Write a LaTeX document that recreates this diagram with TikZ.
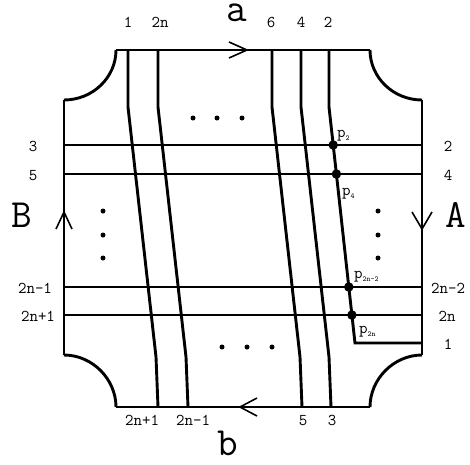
\documentclass[tikz,border=0pt]{standalone}
\usepackage{fontspec}
\begin{document}
\begin{tikzpicture}[x=1pt,y=-1pt,
  strand/.style={line width=2.9pt},
  edge/.style={line width=1.6pt},
  corner/.style={line width=2.9pt},
  chev/.style={line width=1.6pt},
  lab/.style={font=\ttfamily\fontsize{16.5}{16.5}\selectfont, anchor=base, inner sep=0pt},
  plab/.style={font=\ttfamily\fontsize{16.5}{16.5}\selectfont, anchor=base west, inner sep=0pt},
  big/.style={font=\ttfamily\fontsize{40}{40}\selectfont, anchor=base, inner sep=0pt},
  xdot/.style={circle, fill, inner sep=0pt, minimum size=9.5pt},
  sdot/.style={circle, fill, inner sep=0pt, minimum size=5pt}]
\useasboundingbox (0,0) rectangle (470,464);
\newcommand{\sbs}[1]{\raisebox{-3pt}{\ttfamily\fontsize{7.5}{7.5}\selectfont #1}}
% frame
\coordinate (TL1) at (116,50);  \coordinate (TR1) at (370,50);
\coordinate (TL2) at (64,100);  \coordinate (TR2) at (422,100);
\coordinate (BL1) at (64,355);  \coordinate (BR1) at (422,355);
\coordinate (BL2) at (116,407); \coordinate (BR2) at (370,407);
\draw[edge] (TL1) -- (TR1);
\draw[edge] (TR2) -- (BR1);
\draw[edge] (BR2) -- (BL2);
\draw[edge] (BL1) -- (TL2);
\draw[corner] (TL1) .. controls (116,77.6) and (92.6,100) .. (TL2);
\draw[corner] (TR1) .. controls (370,77.6) and (393.4,100) .. (TR2);
\draw[corner] (BL1) .. controls (92.6,355) and (116,379.4) .. (BL2);
\draw[corner] (BR1) .. controls (393.4,355) and (370,379.4) .. (BR2);
% edge arrows
\coordinate (atip) at (247,50);
\coordinate (btip) at (240,407);
\coordinate (Btip) at (64,212);
\coordinate (Atip) at (422,229);
\draw[chev] (atip) ++(-18,-8) -- (atip) -- ++(-18,8);
\draw[chev] (btip) ++(17,-9) -- (btip) -- ++(17,9);
\draw[chev] (Btip) ++(-8,17) -- (Btip) -- ++(8,17);
\draw[chev] (Atip) ++(-10,-17) -- (Atip) -- ++(10,-17);
% vertical strands
\foreach \t/\nm in {128/v1, 158/v2n, 272/v6, 301/v4}{
  \coordinate (\nm a) at (\t,50);
  \coordinate (\nm b) at (\t,107);
  \coordinate (\nm c) at ({\t+28},357);
  \coordinate (\nm d) at ({\t+30},407);
  \draw[strand] (\nm a) -- (\nm b) -- (\nm c) -- (\nm d);
}
% horizontal strands
\foreach \y/\nm in {145/h3, 174/h5, 287/h2nm, 315/h2np}{
  \coordinate (\nm L) at (64,\y);
  \coordinate (\nm R) at (422,\y);
  \draw[strand] (\nm L) -- (\nm R);
}
% strand 2
\coordinate (s2a) at (329,50);
\coordinate (s2b) at (329,107);
\coordinate (p2) at (333.2,145);
\coordinate (p4) at (336.4,174);
\coordinate (p2n2) at (348.8,287);
\coordinate (p2n) at (351.9,315);
\coordinate (s2c) at (355,343);
\coordinate (s2d) at (422,343);
\draw[strand] (s2a) -- (s2b) -- (p2) -- (p4) -- (p2n2) -- (p2n) -- (s2c) -- (s2d);
\foreach \p in {p2,p4,p2n2,p2n}{ \node[xdot] at (\p) {}; }
% dots
\foreach \x in {193,217,242}{ \node[sdot] at (\x,118) {}; }
\foreach \x in {222,247,272}{ \node[sdot] at (\x,347) {}; }
\foreach \y in {211,235,258}{ \node[sdot] at (103,\y) {}; \node[sdot] at (378,\y) {}; }
% big labels
\node[big] (la) at (237,21) {a};
\node[big] (lb) at (228,455) {b};
\node[big] (lB) at (22,227) {B};
\node[big] (lA) at (456,227) {A};
% top labels
\node[lab] (t1) at (128,27) {1};
\node[lab] (t2n) at (160,27) {2n};
\node[lab] (t6) at (271,27) {6};
\node[lab] (t4) at (301,27) {4};
\node[lab] (t2) at (328,27) {2};
% bottom labels
\node[lab] (b2np) at (142,425) {2n+1};
\node[lab] (b2nm) at (193,425) {2n-1};
\node[lab] (b5) at (303,425) {5};
\node[lab] (b3) at (332,425) {3};
% left labels
\node[lab] (l3) at (33,151) {3};
\node[lab] (l5) at (33,180) {5};
\node[lab] (l2nm) at (35,293) {2n-1};
\node[lab] (l2np) at (38,321) {2n+1};
% right labels
\node[lab] (r2) at (448,151) {2};
\node[lab] (r4) at (448,180) {4};
\node[lab] (r2nm) at (448,293) {2n-2};
\node[lab] (r2n) at (447,321) {2n};
\node[lab] (r1) at (448,349) {1};
% p labels
\node[plab] (lp2) at (337,137) {p\sbs{2}};
\node[plab] (lp4) at (342,195) {p\sbs{4}};
\node[plab] (lp2n2) at (354,278) {p\sbs{2n-2}};
\node[plab] (lp2n) at (359,333) {p\sbs{2n}};
\end{tikzpicture}
\end{document}
